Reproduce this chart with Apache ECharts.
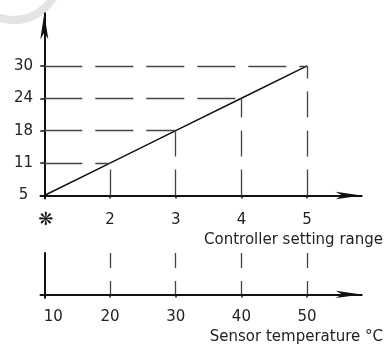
<!DOCTYPE html>
<html><head><meta charset="utf-8">
<script src="https://cdn.jsdelivr.net/npm/echarts@6/dist/echarts.min.js"></script>
<style>html,body{margin:0;padding:0;background:#fff}#c{width:386px;height:345px}</style>
</head><body><div id="c"></div>
<script>
// ---- data ----
const settingLabels = ['❋', '2', '3', '4', '5'];
const sensorTemps = [10, 20, 30, 40, 50];
const flowTemps = [5, 11, 18, 24, 30];
const upperAxisTitle = 'Controller setting range';
const lowerAxisTitle = 'Sensor temperature °C';

// ---- build ----
const FONT = 'DejaVu Sans';
const INK = '#111';
const TXT = '#222';
const flowIdx = flowTemps.map((v, i) => i);
const points = sensorTemps.map((t, i) => [t, flowIdx[i]]);
const hStyle = {type: [38, 13], color: '#444', width: 1.3};
const vStyle = {type: [26, 13], color: '#444', width: 1.3};
const lStyle = {type: [15, 13], color: '#444', width: 1.3};
const guideLines = [];
const lowLines = [];
for (let i = 1; i < points.length; i++) {
  guideLines.push([{coord: [sensorTemps[0], flowIdx[i]], lineStyle: hStyle}, {coord: [sensorTemps[i], flowIdx[i]]}]);
  guideLines.push([{coord: [sensorTemps[i], 0], lineStyle: vStyle}, {coord: [sensorTemps[i], flowIdx[i]]}]);
  lowLines.push([{coord: [sensorTemps[i], 1], lineStyle: lStyle}, {coord: [sensorTemps[i], 0]}]);
}
const labelFont = {fontSize: 15, fontFamily: FONT, color: TXT};
const axisLineStyle = {color: INK, width: 2};
const xCommon = {
  type: 'value', min: 9.42, max: 58.31,
  axisLine: {show: true, onZero: true, lineStyle: axisLineStyle, symbol: ['none', 'arrow'], symbolSize: [5.5, 26]},
  axisTick: {show: true, customValues: sensorTemps, length: 3, lineStyle: {color: INK, width: 1.5}},
  splitLine: {show: false}
};

const chart = echarts.init(document.getElementById('c'));
chart.setOption({
  backgroundColor: '#fff',
  animation: false,
  graphic: [{type: 'circle', silent: true, z: -10, shape: {cx: 14, cy: -25, r: 45},
    style: {fill: 'none', stroke: '#e4e4e4', lineWidth: 8}}],
  title: [
    {text: upperAxisTitle, right: 3, top: 233, padding: 0,
      textStyle: {fontSize: 15, fontWeight: 'normal', fontFamily: FONT, color: TXT, lineHeight: 15}},
    {text: lowerAxisTitle, right: 3, top: 330, padding: 0,
      textStyle: {fontSize: 15, fontWeight: 'normal', fontFamily: FONT, color: TXT, lineHeight: 15}}
  ],
  grid: [
    {left: 40.5, top: 13.3, width: 321.2, height: 185.2, outerBoundsMode: 'none', containLabel: false},
    {left: 40.5, top: 253, width: 321.2, height: 44.7, outerBoundsMode: 'none', containLabel: false}
  ],
  xAxis: [
    Object.assign({}, xCommon, {gridIndex: 0,
      axisLabel: Object.assign({customValues: sensorTemps, margin: 14,
        formatter: v => {
          const k = sensorTemps.indexOf(v);
          return k === 0 ? '{snow|' + settingLabels[k] + '}' : settingLabels[k];
        },
        rich: {snow: {fontSize: 18, fontWeight: 'bold', fontFamily: FONT, color: INK, lineHeight: 15, padding: [0, 0, 0, 3]}}}, labelFont)}),
    Object.assign({}, xCommon, {gridIndex: 1,
      axisLabel: Object.assign({customValues: sensorTemps, margin: 11.5,
        formatter: v => {
          const k = sensorTemps.indexOf(v);
          return k === 0 ? '{first|' + v + '}' : String(v);
        },
        rich: {first: Object.assign({padding: [0, 0, 0, 18]}, labelFont)}}, labelFont)})
  ],
  yAxis: [
    {gridIndex: 0, type: 'value', min: -0.0926, max: 5.623, offset: -3.8,
      axisLine: {show: true, onZero: false, lineStyle: axisLineStyle, symbol: ['none', 'arrow'], symbolSize: [6, 26]},
      axisTick: {show: true, customValues: flowIdx, length: 4, lineStyle: {color: INK, width: 1.5}},
      axisLabel: Object.assign({customValues: flowIdx, align: 'center', margin: 20.8,
        formatter: v => String(flowTemps[v])}, labelFont),
      splitLine: {show: false}},
    {gridIndex: 1, type: 'value', min: -0.08, max: 1, offset: -3.8,
      axisLine: {show: true, onZero: false, lineStyle: axisLineStyle},
      axisTick: {show: false}, axisLabel: {show: false}, splitLine: {show: false}}
  ],
  series: [
    {type: 'line', xAxisIndex: 0, yAxisIndex: 0, data: points, showSymbol: false, symbol: 'none',
      lineStyle: {color: INK, width: 1.5}, z: 3,
      markLine: {silent: true, symbol: ['none', 'none'], label: {show: false}, animation: false,
        data: guideLines}},
    {type: 'line', xAxisIndex: 1, yAxisIndex: 1, data: sensorTemps.map(t => [t, 0]), showSymbol: false, symbol: 'none',
      lineStyle: {opacity: 0},
      markLine: {silent: true, symbol: ['none', 'none'], label: {show: false}, animation: false,
        data: lowLines}}
  ]
});
</script></body></html>
